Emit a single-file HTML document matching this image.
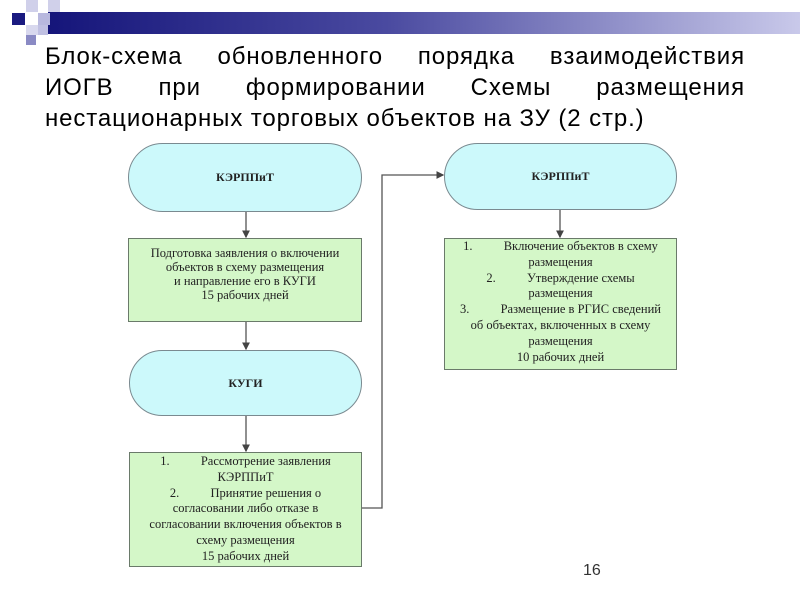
<!DOCTYPE html>
<html><head><meta charset="utf-8"><style>
body{margin:0;width:800px;height:600px;background:#fff;position:relative;overflow:hidden;font-family:"Liberation Sans",sans-serif}
.a{position:absolute}
.tl{position:absolute;left:45px;width:700px;font-size:24px;letter-spacing:0.9px;line-height:30px;text-align:justify;text-align-last:justify;color:#000;white-space:nowrap}
.t{position:absolute;font-family:"Liberation Serif",serif;font-size:12.5px;text-align:center;color:#222}
.pill{position:absolute;background:#ccf9fb;border:1.5px solid #7a8a90;border-radius:36px;box-sizing:border-box;display:flex;align-items:center;justify-content:center;font-family:"Liberation Serif",serif;font-weight:bold;font-size:12px;color:#222}
.box{position:absolute;background:#d4f7c8;border:1.5px solid #6a7a6a;box-sizing:border-box}
</style></head><body>
<div class="a" style="left:48px;top:12px;width:752px;height:22px;background:linear-gradient(90deg,#15157a,#4a4aa0 45%,#c9c9ea)"></div>
<div class="a" style="left:12px;top:13px;width:13px;height:12px;background:#1a1a80"></div>
<div class="a" style="left:26px;top:0;width:12px;height:12px;background:#d0d0ea"></div>
<div class="a" style="left:48px;top:0;width:12px;height:12px;background:#d0d0ea"></div>
<div class="a" style="left:38px;top:13px;width:12px;height:12px;background:#b8b8de"></div>
<div class="a" style="left:26px;top:25px;width:12px;height:10px;background:#d8d8ee"></div>
<div class="a" style="left:38px;top:25px;width:10px;height:10px;background:#c0c0e2"></div>
<div class="a" style="left:26px;top:35px;width:10px;height:10px;background:#8a8ac4"></div>
<div class="tl" style="top:42px">Блок-схема обновленного порядка взаимодействия</div>
<div class="tl" style="top:73px">ИОГВ при формировании Схемы размещения</div>
<div class="tl" style="top:104px;text-align-last:left">нестационарных торговых объектов на ЗУ (2 стр.)</div>

<svg class="a" style="left:0;top:0" width="800" height="600">
<defs><marker id="m" markerWidth="6" markerHeight="6" refX="5" refY="3" orient="auto"><path d="M0,0 L6,3 L0,6z" fill="#444"/></marker></defs>
<g stroke="#555" stroke-width="1.3" fill="none">
<line x1="246" y1="212" x2="246" y2="237" marker-end="url(#m)"/>
<line x1="246" y1="321" x2="246" y2="349" marker-end="url(#m)"/>
<line x1="246" y1="416" x2="246" y2="451" marker-end="url(#m)"/>
<line x1="560" y1="210" x2="560" y2="237" marker-end="url(#m)"/>
<polyline points="362,508 382,508 382,175 443,175" marker-end="url(#m)"/>
</g></svg>

<div class="pill" style="left:128px;top:143px;width:234px;height:69px">КЭРППиТ</div>
<div class="pill" style="left:444px;top:143px;width:233px;height:67px">КЭРППиТ</div>
<div class="pill" style="left:129px;top:350px;width:233px;height:66px">КУГИ</div>

<div class="box" style="left:128px;top:238px;width:234px;height:84px"></div>
<div class="t" style="left:128px;top:246px;width:234px;line-height:14px">Подготовка заявления о включении<br>объектов в схему размещения<br>и направление его в КУГИ<br>15 рабочих дней</div>

<div class="box" style="left:129px;top:452px;width:233px;height:115px"></div>
<div class="t" style="left:129px;top:454px;width:233px;line-height:15.8px">1.&nbsp;&nbsp;&nbsp;&nbsp;&nbsp;&nbsp;&nbsp;&nbsp;&nbsp;&nbsp;Рассмотрение заявления<br>КЭРППиТ<br>2.&nbsp;&nbsp;&nbsp;&nbsp;&nbsp;&nbsp;&nbsp;&nbsp;&nbsp;&nbsp;Принятие решения о<br>согласовании либо отказе в<br>согласовании включения объектов в<br>схему размещения<br>15 рабочих дней</div>

<div class="box" style="left:444px;top:238px;width:233px;height:132px"></div>
<div class="t" style="left:444px;top:239px;width:233px;line-height:15.8px">1.&nbsp;&nbsp;&nbsp;&nbsp;&nbsp;&nbsp;&nbsp;&nbsp;&nbsp;&nbsp;Включение объектов в схему<br>размещения<br>2.&nbsp;&nbsp;&nbsp;&nbsp;&nbsp;&nbsp;&nbsp;&nbsp;&nbsp;&nbsp;Утверждение схемы<br>размещения<br>3.&nbsp;&nbsp;&nbsp;&nbsp;&nbsp;&nbsp;&nbsp;&nbsp;&nbsp;&nbsp;Размещение в РГИС сведений<br>об объектах, включенных в схему<br>размещения<br>10 рабочих дней</div>

<div class="a" style="left:583px;top:562px;font-size:16px;color:#333">16</div>
</body></html>
